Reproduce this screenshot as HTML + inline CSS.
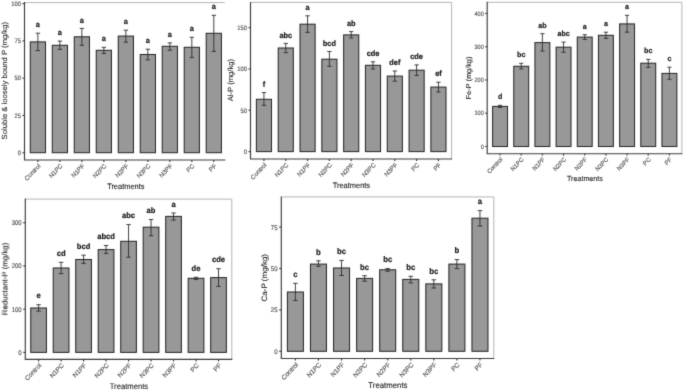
<!DOCTYPE html>
<html><head><meta charset="utf-8"><style>
html,body{margin:0;padding:0;background:#fff;}
body{width:685px;height:392px;overflow:hidden;}
svg{display:block;font-family:"Liberation Sans",sans-serif;filter:grayscale(1);text-rendering:geometricPrecision;}
</style></head><body>
<svg width="685" height="392" viewBox="0 0 685 392">
<defs><filter id="sf" x="0" y="0" width="685" height="392" filterUnits="userSpaceOnUse" color-interpolation-filters="sRGB"><feConvolveMatrix order="3" kernelMatrix="0.01440 0.09120 0.01440 0.09120 0.57760 0.09120 0.01440 0.09120 0.01440" divisor="1" edgeMode="duplicate" preserveAlpha="true"/></filter></defs>
<g filter="url(#sf)"><rect width="685" height="392" fill="#fff"/>
<g><path d="M24.5 2.6H224.8" fill="none" stroke="#b4b4b4" stroke-width="1.0"/><rect x="30.3" y="41.9" width="15.2" height="110.8" fill="#989898" stroke="#2a2a2a" stroke-width="1.05"/><rect x="52.29" y="45.3" width="15.2" height="107.4" fill="#989898" stroke="#2a2a2a" stroke-width="1.05"/><rect x="74.28" y="36.8" width="15.2" height="115.9" fill="#989898" stroke="#2a2a2a" stroke-width="1.05"/><rect x="96.27" y="50.3" width="15.2" height="102.4" fill="#989898" stroke="#2a2a2a" stroke-width="1.05"/><rect x="118.26" y="36.1" width="15.2" height="116.6" fill="#989898" stroke="#2a2a2a" stroke-width="1.05"/><rect x="140.25" y="54.5" width="15.2" height="98.2" fill="#989898" stroke="#2a2a2a" stroke-width="1.05"/><rect x="162.24" y="46.3" width="15.2" height="106.4" fill="#989898" stroke="#2a2a2a" stroke-width="1.05"/><rect x="184.23" y="47.3" width="15.2" height="105.4" fill="#989898" stroke="#2a2a2a" stroke-width="1.05"/><rect x="206.22" y="33.3" width="15.2" height="119.4" fill="#989898" stroke="#2a2a2a" stroke-width="1.05"/><path d="M37.9 33.2V50.6M35.7 33.2H40.1M35.7 50.6H40.1" stroke="#2e2e2e" stroke-width="0.9" fill="none"/><path d="M59.89 41.1V49.4M57.69 41.1H62.09M57.69 49.4H62.09" stroke="#2e2e2e" stroke-width="0.9" fill="none"/><path d="M81.88 28.4V45.3M79.68 28.4H84.08M79.68 45.3H84.08" stroke="#2e2e2e" stroke-width="0.9" fill="none"/><path d="M103.87 47.3V53.4M101.67 47.3H106.07M101.67 53.4H106.07" stroke="#2e2e2e" stroke-width="0.9" fill="none"/><path d="M125.86 30.2V42.2M123.66 30.2H128.06M123.66 42.2H128.06" stroke="#2e2e2e" stroke-width="0.9" fill="none"/><path d="M147.85 49.2V59.8M145.65 49.2H150.05M145.65 59.8H150.05" stroke="#2e2e2e" stroke-width="0.9" fill="none"/><path d="M169.84 42.9V50.2M167.64 42.9H172.04M167.64 50.2H172.04" stroke="#2e2e2e" stroke-width="0.9" fill="none"/><path d="M191.83 37.3V57.6M189.63 37.3H194.03M189.63 57.6H194.03" stroke="#2e2e2e" stroke-width="0.9" fill="none"/><path d="M213.82 15.3V51.4M211.62 15.3H216.02M211.62 51.4H216.02" stroke="#2e2e2e" stroke-width="0.9" fill="none"/><text transform="translate(37.9 27.3) scale(1 1.06)" text-anchor="middle" font-weight="bold" font-size="7.4" fill="#1a1a1a" stroke="#1a1a1a" stroke-width="0.2">a</text><text transform="translate(59.89 35.2) scale(1 1.06)" text-anchor="middle" font-weight="bold" font-size="7.4" fill="#1a1a1a" stroke="#1a1a1a" stroke-width="0.2">a</text><text transform="translate(81.88 22.5) scale(1 1.06)" text-anchor="middle" font-weight="bold" font-size="7.4" fill="#1a1a1a" stroke="#1a1a1a" stroke-width="0.2">a</text><text transform="translate(103.87 41.4) scale(1 1.06)" text-anchor="middle" font-weight="bold" font-size="7.4" fill="#1a1a1a" stroke="#1a1a1a" stroke-width="0.2">a</text><text transform="translate(125.86 24.3) scale(1 1.06)" text-anchor="middle" font-weight="bold" font-size="7.4" fill="#1a1a1a" stroke="#1a1a1a" stroke-width="0.2">a</text><text transform="translate(147.85 43.3) scale(1 1.06)" text-anchor="middle" font-weight="bold" font-size="7.4" fill="#1a1a1a" stroke="#1a1a1a" stroke-width="0.2">a</text><text transform="translate(169.84 37) scale(1 1.06)" text-anchor="middle" font-weight="bold" font-size="7.4" fill="#1a1a1a" stroke="#1a1a1a" stroke-width="0.2">a</text><text transform="translate(191.83 31.4) scale(1 1.06)" text-anchor="middle" font-weight="bold" font-size="7.4" fill="#1a1a1a" stroke="#1a1a1a" stroke-width="0.2">a</text><text transform="translate(213.82 9.4) scale(1 1.06)" text-anchor="middle" font-weight="bold" font-size="7.4" fill="#1a1a1a" stroke="#1a1a1a" stroke-width="0.2">a</text><path d="M24.5 2.1V160H225.3" fill="none" stroke="#3c3c3c" stroke-width="1.15"/><path d="M22.5 152.7H24.5" stroke="#3c3c3c" stroke-width="1.15"/><text transform="translate(20.9 155) scale(1 1.12)" text-anchor="end" font-size="5.8" fill="#555555" stroke="#555555" stroke-width="0.15">0</text><path d="M22.5 115.42H24.5" stroke="#3c3c3c" stroke-width="1.15"/><text transform="translate(20.9 117.72) scale(1 1.12)" text-anchor="end" font-size="5.8" fill="#555555" stroke="#555555" stroke-width="0.15">25</text><path d="M22.5 78.15H24.5" stroke="#3c3c3c" stroke-width="1.15"/><text transform="translate(20.9 80.45) scale(1 1.12)" text-anchor="end" font-size="5.8" fill="#555555" stroke="#555555" stroke-width="0.15">50</text><path d="M22.5 40.87H24.5" stroke="#3c3c3c" stroke-width="1.15"/><text transform="translate(20.9 43.17) scale(1 1.12)" text-anchor="end" font-size="5.8" fill="#555555" stroke="#555555" stroke-width="0.15">75</text><path d="M22.5 3.6H24.5" stroke="#3c3c3c" stroke-width="1.15"/><text transform="translate(20.9 5.9) scale(1 1.12)" text-anchor="end" font-size="5.8" fill="#555555" stroke="#555555" stroke-width="0.15">100</text><path d="M37.9 160V162" stroke="#3c3c3c" stroke-width="1.15"/><text transform="translate(40.9 166.4) scale(1 1.06) rotate(-45)" text-anchor="end" font-size="6.1" fill="#555555" stroke="#555555" stroke-width="0.15">Control</text><path d="M59.89 160V162" stroke="#3c3c3c" stroke-width="1.15"/><text transform="translate(62.89 166.4) scale(1 1.06) rotate(-45)" text-anchor="end" font-size="6.1" fill="#555555" stroke="#555555" stroke-width="0.15">N1PC</text><path d="M81.88 160V162" stroke="#3c3c3c" stroke-width="1.15"/><text transform="translate(84.88 166.4) scale(1 1.06) rotate(-45)" text-anchor="end" font-size="6.1" fill="#555555" stroke="#555555" stroke-width="0.15">N1PF</text><path d="M103.87 160V162" stroke="#3c3c3c" stroke-width="1.15"/><text transform="translate(106.87 166.4) scale(1 1.06) rotate(-45)" text-anchor="end" font-size="6.1" fill="#555555" stroke="#555555" stroke-width="0.15">N2PC</text><path d="M125.86 160V162" stroke="#3c3c3c" stroke-width="1.15"/><text transform="translate(128.86 166.4) scale(1 1.06) rotate(-45)" text-anchor="end" font-size="6.1" fill="#555555" stroke="#555555" stroke-width="0.15">N2PF</text><path d="M147.85 160V162" stroke="#3c3c3c" stroke-width="1.15"/><text transform="translate(150.85 166.4) scale(1 1.06) rotate(-45)" text-anchor="end" font-size="6.1" fill="#555555" stroke="#555555" stroke-width="0.15">N3PC</text><path d="M169.84 160V162" stroke="#3c3c3c" stroke-width="1.15"/><text transform="translate(172.84 166.4) scale(1 1.06) rotate(-45)" text-anchor="end" font-size="6.1" fill="#555555" stroke="#555555" stroke-width="0.15">N3PF</text><path d="M191.83 160V162" stroke="#3c3c3c" stroke-width="1.15"/><text transform="translate(194.83 166.4) scale(1 1.06) rotate(-45)" text-anchor="end" font-size="6.1" fill="#555555" stroke="#555555" stroke-width="0.15">PC</text><path d="M213.82 160V162" stroke="#3c3c3c" stroke-width="1.15"/><text transform="translate(216.82 166.4) scale(1 1.06) rotate(-45)" text-anchor="end" font-size="6.1" fill="#555555" stroke="#555555" stroke-width="0.15">PF</text><text transform="translate(125.8 188.5) scale(1 1.06)" text-anchor="middle" font-size="7.45" fill="#222222" stroke="#222222" stroke-width="0.1">Treatments</text><text transform="translate(7.1 80.7) scale(1 1.03) rotate(-90)" text-anchor="middle" font-size="7.45" fill="#222222" stroke="#222222" stroke-width="0.1">Soluble &amp; loosely bound P (mg/kg)</text></g>
<g><path d="M250.5 2.4H451.6V159" fill="none" stroke="#b4b4b4" stroke-width="1.0"/><rect x="256.4" y="99.3" width="15.1" height="52.3" fill="#989898" stroke="#2a2a2a" stroke-width="1.05"/><rect x="278.21" y="48" width="15.1" height="103.6" fill="#989898" stroke="#2a2a2a" stroke-width="1.05"/><rect x="300.02" y="24.2" width="15.1" height="127.4" fill="#989898" stroke="#2a2a2a" stroke-width="1.05"/><rect x="321.83" y="59.2" width="15.1" height="92.4" fill="#989898" stroke="#2a2a2a" stroke-width="1.05"/><rect x="343.64" y="34.9" width="15.1" height="116.7" fill="#989898" stroke="#2a2a2a" stroke-width="1.05"/><rect x="365.45" y="65.3" width="15.1" height="86.3" fill="#989898" stroke="#2a2a2a" stroke-width="1.05"/><rect x="387.26" y="76.1" width="15.1" height="75.5" fill="#989898" stroke="#2a2a2a" stroke-width="1.05"/><rect x="409.07" y="70.2" width="15.1" height="81.4" fill="#989898" stroke="#2a2a2a" stroke-width="1.05"/><rect x="430.88" y="87.1" width="15.1" height="64.5" fill="#989898" stroke="#2a2a2a" stroke-width="1.05"/><path d="M263.95 92.6V105.3M261.77 92.6H266.13M261.77 105.3H266.13" stroke="#2e2e2e" stroke-width="0.9" fill="none"/><path d="M285.76 43.4V52.6M283.58 43.4H287.94M283.58 52.6H287.94" stroke="#2e2e2e" stroke-width="0.9" fill="none"/><path d="M307.57 15.8V32.4M305.39 15.8H309.75M305.39 32.4H309.75" stroke="#2e2e2e" stroke-width="0.9" fill="none"/><path d="M329.38 51.5V66.3M327.2 51.5H331.56M327.2 66.3H331.56" stroke="#2e2e2e" stroke-width="0.9" fill="none"/><path d="M351.19 31.6V38M349.01 31.6H353.37M349.01 38H353.37" stroke="#2e2e2e" stroke-width="0.9" fill="none"/><path d="M373 61.8V69M370.82 61.8H375.18M370.82 69H375.18" stroke="#2e2e2e" stroke-width="0.9" fill="none"/><path d="M394.81 71V81.2M392.63 71H396.99M392.63 81.2H396.99" stroke="#2e2e2e" stroke-width="0.9" fill="none"/><path d="M416.62 64.9V75.5M414.44 64.9H418.8M414.44 75.5H418.8" stroke="#2e2e2e" stroke-width="0.9" fill="none"/><path d="M438.43 82.2V92M436.25 82.2H440.61M436.25 92H440.61" stroke="#2e2e2e" stroke-width="0.9" fill="none"/><text transform="translate(263.95 86.7) scale(1 1.06)" text-anchor="middle" font-weight="bold" font-size="7.4" fill="#1a1a1a" stroke="#1a1a1a" stroke-width="0.2">f</text><text transform="translate(285.76 37.5) scale(1 1.06)" text-anchor="middle" font-weight="bold" font-size="7.4" fill="#1a1a1a" stroke="#1a1a1a" stroke-width="0.2">abc</text><text transform="translate(307.57 9.9) scale(1 1.06)" text-anchor="middle" font-weight="bold" font-size="7.4" fill="#1a1a1a" stroke="#1a1a1a" stroke-width="0.2">a</text><text transform="translate(329.38 45.6) scale(1 1.06)" text-anchor="middle" font-weight="bold" font-size="7.4" fill="#1a1a1a" stroke="#1a1a1a" stroke-width="0.2">bcd</text><text transform="translate(351.19 25.7) scale(1 1.06)" text-anchor="middle" font-weight="bold" font-size="7.4" fill="#1a1a1a" stroke="#1a1a1a" stroke-width="0.2">ab</text><text transform="translate(373 55.9) scale(1 1.06)" text-anchor="middle" font-weight="bold" font-size="7.4" fill="#1a1a1a" stroke="#1a1a1a" stroke-width="0.2">cde</text><text transform="translate(394.81 65.1) scale(1 1.06)" text-anchor="middle" font-weight="bold" font-size="7.4" fill="#1a1a1a" stroke="#1a1a1a" stroke-width="0.2">def</text><text transform="translate(416.62 59) scale(1 1.06)" text-anchor="middle" font-weight="bold" font-size="7.4" fill="#1a1a1a" stroke="#1a1a1a" stroke-width="0.2">cde</text><text transform="translate(438.43 76.3) scale(1 1.06)" text-anchor="middle" font-weight="bold" font-size="7.4" fill="#1a1a1a" stroke="#1a1a1a" stroke-width="0.2">ef</text><path d="M250.5 1.9V159H452.1" fill="none" stroke="#3c3c3c" stroke-width="1.15"/><path d="M248.5 151.6H250.5" stroke="#3c3c3c" stroke-width="1.15"/><text transform="translate(246.9 153.9) scale(1 1.12)" text-anchor="end" font-size="5.8" fill="#555555" stroke="#555555" stroke-width="0.15">0</text><path d="M248.5 110.26H250.5" stroke="#3c3c3c" stroke-width="1.15"/><text transform="translate(246.9 112.56) scale(1 1.12)" text-anchor="end" font-size="5.8" fill="#555555" stroke="#555555" stroke-width="0.15">50</text><path d="M248.5 68.93H250.5" stroke="#3c3c3c" stroke-width="1.15"/><text transform="translate(246.9 71.23) scale(1 1.12)" text-anchor="end" font-size="5.8" fill="#555555" stroke="#555555" stroke-width="0.15">100</text><path d="M248.5 27.59H250.5" stroke="#3c3c3c" stroke-width="1.15"/><text transform="translate(246.9 29.89) scale(1 1.12)" text-anchor="end" font-size="5.8" fill="#555555" stroke="#555555" stroke-width="0.15">150</text><path d="M263.95 159V161" stroke="#3c3c3c" stroke-width="1.15"/><text transform="translate(266.95 165.4) scale(1 1.06) rotate(-45)" text-anchor="end" font-size="6.1" fill="#555555" stroke="#555555" stroke-width="0.15">Control</text><path d="M285.76 159V161" stroke="#3c3c3c" stroke-width="1.15"/><text transform="translate(288.76 165.4) scale(1 1.06) rotate(-45)" text-anchor="end" font-size="6.1" fill="#555555" stroke="#555555" stroke-width="0.15">N1PC</text><path d="M307.57 159V161" stroke="#3c3c3c" stroke-width="1.15"/><text transform="translate(310.57 165.4) scale(1 1.06) rotate(-45)" text-anchor="end" font-size="6.1" fill="#555555" stroke="#555555" stroke-width="0.15">N1PF</text><path d="M329.38 159V161" stroke="#3c3c3c" stroke-width="1.15"/><text transform="translate(332.38 165.4) scale(1 1.06) rotate(-45)" text-anchor="end" font-size="6.1" fill="#555555" stroke="#555555" stroke-width="0.15">N2PC</text><path d="M351.19 159V161" stroke="#3c3c3c" stroke-width="1.15"/><text transform="translate(354.19 165.4) scale(1 1.06) rotate(-45)" text-anchor="end" font-size="6.1" fill="#555555" stroke="#555555" stroke-width="0.15">N2PF</text><path d="M373 159V161" stroke="#3c3c3c" stroke-width="1.15"/><text transform="translate(376 165.4) scale(1 1.06) rotate(-45)" text-anchor="end" font-size="6.1" fill="#555555" stroke="#555555" stroke-width="0.15">N3PC</text><path d="M394.81 159V161" stroke="#3c3c3c" stroke-width="1.15"/><text transform="translate(397.81 165.4) scale(1 1.06) rotate(-45)" text-anchor="end" font-size="6.1" fill="#555555" stroke="#555555" stroke-width="0.15">N3PF</text><path d="M416.62 159V161" stroke="#3c3c3c" stroke-width="1.15"/><text transform="translate(419.62 165.4) scale(1 1.06) rotate(-45)" text-anchor="end" font-size="6.1" fill="#555555" stroke="#555555" stroke-width="0.15">PC</text><path d="M438.43 159V161" stroke="#3c3c3c" stroke-width="1.15"/><text transform="translate(441.43 165.4) scale(1 1.06) rotate(-45)" text-anchor="end" font-size="6.1" fill="#555555" stroke="#555555" stroke-width="0.15">PF</text><text transform="translate(351.4 187.5) scale(1 1.06)" text-anchor="middle" font-size="7.45" fill="#222222" stroke="#222222" stroke-width="0.1">Treatments</text><text transform="translate(233.1 80.1) scale(1 1.03) rotate(-90)" text-anchor="middle" font-size="7.45" fill="#222222" stroke="#222222" stroke-width="0.1">Al-P (mg/kg)</text></g>
<g><path d="M487.2 2.3H681.9V153.7" fill="none" stroke="#b4b4b4" stroke-width="1.0"/><rect x="492.6" y="106.4" width="14.9" height="40.1" fill="#989898" stroke="#2a2a2a" stroke-width="1.05"/><rect x="513.77" y="66.3" width="14.9" height="80.2" fill="#989898" stroke="#2a2a2a" stroke-width="1.05"/><rect x="534.94" y="42.6" width="14.9" height="103.9" fill="#989898" stroke="#2a2a2a" stroke-width="1.05"/><rect x="556.11" y="47.2" width="14.9" height="99.3" fill="#989898" stroke="#2a2a2a" stroke-width="1.05"/><rect x="577.28" y="37.1" width="14.9" height="109.4" fill="#989898" stroke="#2a2a2a" stroke-width="1.05"/><rect x="598.45" y="35.3" width="14.9" height="111.2" fill="#989898" stroke="#2a2a2a" stroke-width="1.05"/><rect x="619.62" y="23.9" width="14.9" height="122.6" fill="#989898" stroke="#2a2a2a" stroke-width="1.05"/><rect x="640.79" y="63.2" width="14.9" height="83.3" fill="#989898" stroke="#2a2a2a" stroke-width="1.05"/><rect x="661.96" y="73.4" width="14.9" height="73.1" fill="#989898" stroke="#2a2a2a" stroke-width="1.05"/><path d="M500.05 105.3V107.4M497.93 105.3H502.17M497.93 107.4H502.17" stroke="#2e2e2e" stroke-width="0.9" fill="none"/><path d="M521.22 63.3V68.9M519.1 63.3H523.34M519.1 68.9H523.34" stroke="#2e2e2e" stroke-width="0.9" fill="none"/><path d="M542.39 33.7V51M540.27 33.7H544.51M540.27 51H544.51" stroke="#2e2e2e" stroke-width="0.9" fill="none"/><path d="M563.56 42.1V52.3M561.44 42.1H565.68M561.44 52.3H565.68" stroke="#2e2e2e" stroke-width="0.9" fill="none"/><path d="M584.73 34.7V39.4M582.61 34.7H586.85M582.61 39.4H586.85" stroke="#2e2e2e" stroke-width="0.9" fill="none"/><path d="M605.9 32.2V38.4M603.78 32.2H608.02M603.78 38.4H608.02" stroke="#2e2e2e" stroke-width="0.9" fill="none"/><path d="M627.07 15.3V32.2M624.95 15.3H629.19M624.95 32.2H629.19" stroke="#2e2e2e" stroke-width="0.9" fill="none"/><path d="M648.24 59.4V67.4M646.12 59.4H650.36M646.12 67.4H650.36" stroke="#2e2e2e" stroke-width="0.9" fill="none"/><path d="M669.41 67.2V79.3M667.29 67.2H671.53M667.29 79.3H671.53" stroke="#2e2e2e" stroke-width="0.9" fill="none"/><text transform="translate(500.05 99.24) scale(1 1.06)" text-anchor="middle" font-weight="bold" font-size="7.1" fill="#1a1a1a" stroke="#1a1a1a" stroke-width="0.2">d</text><text transform="translate(521.22 57.24) scale(1 1.06)" text-anchor="middle" font-weight="bold" font-size="7.1" fill="#1a1a1a" stroke="#1a1a1a" stroke-width="0.2">bc</text><text transform="translate(542.39 27.64) scale(1 1.06)" text-anchor="middle" font-weight="bold" font-size="7.1" fill="#1a1a1a" stroke="#1a1a1a" stroke-width="0.2">ab</text><text transform="translate(563.56 36.04) scale(1 1.06)" text-anchor="middle" font-weight="bold" font-size="7.1" fill="#1a1a1a" stroke="#1a1a1a" stroke-width="0.2">abc</text><text transform="translate(584.73 28.64) scale(1 1.06)" text-anchor="middle" font-weight="bold" font-size="7.1" fill="#1a1a1a" stroke="#1a1a1a" stroke-width="0.2">a</text><text transform="translate(605.9 26.14) scale(1 1.06)" text-anchor="middle" font-weight="bold" font-size="7.1" fill="#1a1a1a" stroke="#1a1a1a" stroke-width="0.2">a</text><text transform="translate(627.07 9.24) scale(1 1.06)" text-anchor="middle" font-weight="bold" font-size="7.1" fill="#1a1a1a" stroke="#1a1a1a" stroke-width="0.2">a</text><text transform="translate(648.24 53.34) scale(1 1.06)" text-anchor="middle" font-weight="bold" font-size="7.1" fill="#1a1a1a" stroke="#1a1a1a" stroke-width="0.2">bc</text><text transform="translate(669.41 61.14) scale(1 1.06)" text-anchor="middle" font-weight="bold" font-size="7.1" fill="#1a1a1a" stroke="#1a1a1a" stroke-width="0.2">c</text><path d="M487.2 1.8V153.7H682.4" fill="none" stroke="#3c3c3c" stroke-width="1.15"/><path d="M485.28 146.5H487.2" stroke="#3c3c3c" stroke-width="1.15"/><text transform="translate(483.74 148.71) scale(1 1.12)" text-anchor="end" font-size="5.57" fill="#555555" stroke="#555555" stroke-width="0.15">0</text><path d="M485.28 113.25H487.2" stroke="#3c3c3c" stroke-width="1.15"/><text transform="translate(483.74 115.46) scale(1 1.12)" text-anchor="end" font-size="5.57" fill="#555555" stroke="#555555" stroke-width="0.15">100</text><path d="M485.28 80H487.2" stroke="#3c3c3c" stroke-width="1.15"/><text transform="translate(483.74 82.21) scale(1 1.12)" text-anchor="end" font-size="5.57" fill="#555555" stroke="#555555" stroke-width="0.15">200</text><path d="M485.28 46.75H487.2" stroke="#3c3c3c" stroke-width="1.15"/><text transform="translate(483.74 48.96) scale(1 1.12)" text-anchor="end" font-size="5.57" fill="#555555" stroke="#555555" stroke-width="0.15">300</text><path d="M485.28 13.5H487.2" stroke="#3c3c3c" stroke-width="1.15"/><text transform="translate(483.74 15.71) scale(1 1.12)" text-anchor="end" font-size="5.57" fill="#555555" stroke="#555555" stroke-width="0.15">400</text><path d="M500.05 153.7V155.62" stroke="#3c3c3c" stroke-width="1.15"/><text transform="translate(502.93 159.84) scale(1 1.06) rotate(-45)" text-anchor="end" font-size="5.86" fill="#555555" stroke="#555555" stroke-width="0.15">Control</text><path d="M521.22 153.7V155.62" stroke="#3c3c3c" stroke-width="1.15"/><text transform="translate(524.1 159.84) scale(1 1.06) rotate(-45)" text-anchor="end" font-size="5.86" fill="#555555" stroke="#555555" stroke-width="0.15">N1PC</text><path d="M542.39 153.7V155.62" stroke="#3c3c3c" stroke-width="1.15"/><text transform="translate(545.27 159.84) scale(1 1.06) rotate(-45)" text-anchor="end" font-size="5.86" fill="#555555" stroke="#555555" stroke-width="0.15">N1PF</text><path d="M563.56 153.7V155.62" stroke="#3c3c3c" stroke-width="1.15"/><text transform="translate(566.44 159.84) scale(1 1.06) rotate(-45)" text-anchor="end" font-size="5.86" fill="#555555" stroke="#555555" stroke-width="0.15">N2PC</text><path d="M584.73 153.7V155.62" stroke="#3c3c3c" stroke-width="1.15"/><text transform="translate(587.61 159.84) scale(1 1.06) rotate(-45)" text-anchor="end" font-size="5.86" fill="#555555" stroke="#555555" stroke-width="0.15">N2PF</text><path d="M605.9 153.7V155.62" stroke="#3c3c3c" stroke-width="1.15"/><text transform="translate(608.78 159.84) scale(1 1.06) rotate(-45)" text-anchor="end" font-size="5.86" fill="#555555" stroke="#555555" stroke-width="0.15">N3PC</text><path d="M627.07 153.7V155.62" stroke="#3c3c3c" stroke-width="1.15"/><text transform="translate(629.95 159.84) scale(1 1.06) rotate(-45)" text-anchor="end" font-size="5.86" fill="#555555" stroke="#555555" stroke-width="0.15">N3PF</text><path d="M648.24 153.7V155.62" stroke="#3c3c3c" stroke-width="1.15"/><text transform="translate(651.12 159.84) scale(1 1.06) rotate(-45)" text-anchor="end" font-size="5.86" fill="#555555" stroke="#555555" stroke-width="0.15">PC</text><path d="M669.41 153.7V155.62" stroke="#3c3c3c" stroke-width="1.15"/><text transform="translate(672.29 159.84) scale(1 1.06) rotate(-45)" text-anchor="end" font-size="5.86" fill="#555555" stroke="#555555" stroke-width="0.15">PF</text><text transform="translate(584.9 181.06) scale(1 1.06)" text-anchor="middle" font-size="7.15" fill="#222222" stroke="#222222" stroke-width="0.1">Treatments</text><text transform="translate(470.5 78) scale(1 1.03) rotate(-90)" text-anchor="middle" font-size="7.15" fill="#222222" stroke="#222222" stroke-width="0.1">Fe-P (mg/kg)</text></g>
<g><path d="M25.3 199.1H231.8V359.4" fill="none" stroke="#b4b4b4" stroke-width="1.0"/><rect x="30.75" y="308" width="15.7" height="44.4" fill="#989898" stroke="#2a2a2a" stroke-width="1.05"/><rect x="53.24" y="268" width="15.7" height="84.4" fill="#989898" stroke="#2a2a2a" stroke-width="1.05"/><rect x="75.73" y="259.5" width="15.7" height="92.9" fill="#989898" stroke="#2a2a2a" stroke-width="1.05"/><rect x="98.22" y="249.6" width="15.7" height="102.8" fill="#989898" stroke="#2a2a2a" stroke-width="1.05"/><rect x="120.71" y="241.3" width="15.7" height="111.1" fill="#989898" stroke="#2a2a2a" stroke-width="1.05"/><rect x="143.2" y="227.2" width="15.7" height="125.2" fill="#989898" stroke="#2a2a2a" stroke-width="1.05"/><rect x="165.69" y="216.4" width="15.7" height="136" fill="#989898" stroke="#2a2a2a" stroke-width="1.05"/><rect x="188.18" y="278.3" width="15.7" height="74.1" fill="#989898" stroke="#2a2a2a" stroke-width="1.05"/><rect x="210.67" y="277.6" width="15.7" height="74.8" fill="#989898" stroke="#2a2a2a" stroke-width="1.05"/><path d="M38.6 304.7V311.1M36.35 304.7H40.85M36.35 311.1H40.85" stroke="#2e2e2e" stroke-width="0.9" fill="none"/><path d="M61.09 262.3V273.6M58.84 262.3H63.34M58.84 273.6H63.34" stroke="#2e2e2e" stroke-width="0.9" fill="none"/><path d="M83.58 255.2V263.4M81.33 255.2H85.83M81.33 263.4H85.83" stroke="#2e2e2e" stroke-width="0.9" fill="none"/><path d="M106.07 245.5V253.4M103.82 245.5H108.32M103.82 253.4H108.32" stroke="#2e2e2e" stroke-width="0.9" fill="none"/><path d="M128.56 224.6V257.2M126.31 224.6H130.81M126.31 257.2H130.81" stroke="#2e2e2e" stroke-width="0.9" fill="none"/><path d="M151.05 219.5V235.8M148.8 219.5H153.3M148.8 235.8H153.3" stroke="#2e2e2e" stroke-width="0.9" fill="none"/><path d="M173.54 213V220.1M171.29 213H175.79M171.29 220.1H175.79" stroke="#2e2e2e" stroke-width="0.9" fill="none"/><path d="M196.03 277.3V279.4M193.78 277.3H198.28M193.78 279.4H198.28" stroke="#2e2e2e" stroke-width="0.9" fill="none"/><path d="M218.52 268.7V286.4M216.27 268.7H220.77M216.27 286.4H220.77" stroke="#2e2e2e" stroke-width="0.9" fill="none"/><text transform="translate(38.6 298.39) scale(1 1.06)" text-anchor="middle" font-weight="bold" font-size="7.6" fill="#1a1a1a" stroke="#1a1a1a" stroke-width="0.2">e</text><text transform="translate(61.09 255.99) scale(1 1.06)" text-anchor="middle" font-weight="bold" font-size="7.6" fill="#1a1a1a" stroke="#1a1a1a" stroke-width="0.2">cd</text><text transform="translate(83.58 248.89) scale(1 1.06)" text-anchor="middle" font-weight="bold" font-size="7.6" fill="#1a1a1a" stroke="#1a1a1a" stroke-width="0.2">bcd</text><text transform="translate(106.07 239.19) scale(1 1.06)" text-anchor="middle" font-weight="bold" font-size="7.6" fill="#1a1a1a" stroke="#1a1a1a" stroke-width="0.2">abcd</text><text transform="translate(128.56 218.29) scale(1 1.06)" text-anchor="middle" font-weight="bold" font-size="7.6" fill="#1a1a1a" stroke="#1a1a1a" stroke-width="0.2">abc</text><text transform="translate(151.05 213.19) scale(1 1.06)" text-anchor="middle" font-weight="bold" font-size="7.6" fill="#1a1a1a" stroke="#1a1a1a" stroke-width="0.2">ab</text><text transform="translate(173.54 206.69) scale(1 1.06)" text-anchor="middle" font-weight="bold" font-size="7.6" fill="#1a1a1a" stroke="#1a1a1a" stroke-width="0.2">a</text><text transform="translate(196.03 270.99) scale(1 1.06)" text-anchor="middle" font-weight="bold" font-size="7.6" fill="#1a1a1a" stroke="#1a1a1a" stroke-width="0.2">de</text><text transform="translate(218.52 262.39) scale(1 1.06)" text-anchor="middle" font-weight="bold" font-size="7.6" fill="#1a1a1a" stroke="#1a1a1a" stroke-width="0.2">cde</text><path d="M25.3 198.6V359.4H232.3" fill="none" stroke="#3c3c3c" stroke-width="1.15"/><path d="M23.25 352.4H25.3" stroke="#3c3c3c" stroke-width="1.15"/><text transform="translate(21.6 354.76) scale(1 1.12)" text-anchor="end" font-size="5.96" fill="#555555" stroke="#555555" stroke-width="0.15">0</text><path d="M23.25 309.17H25.3" stroke="#3c3c3c" stroke-width="1.15"/><text transform="translate(21.6 311.53) scale(1 1.12)" text-anchor="end" font-size="5.96" fill="#555555" stroke="#555555" stroke-width="0.15">100</text><path d="M23.25 265.94H25.3" stroke="#3c3c3c" stroke-width="1.15"/><text transform="translate(21.6 268.3) scale(1 1.12)" text-anchor="end" font-size="5.96" fill="#555555" stroke="#555555" stroke-width="0.15">200</text><path d="M23.25 222.71H25.3" stroke="#3c3c3c" stroke-width="1.15"/><text transform="translate(21.6 225.07) scale(1 1.12)" text-anchor="end" font-size="5.96" fill="#555555" stroke="#555555" stroke-width="0.15">300</text><path d="M38.6 359.4V361.45" stroke="#3c3c3c" stroke-width="1.15"/><text transform="translate(41.68 365.97) scale(1 1.06) rotate(-45)" text-anchor="end" font-size="6.26" fill="#555555" stroke="#555555" stroke-width="0.15">Control</text><path d="M61.09 359.4V361.45" stroke="#3c3c3c" stroke-width="1.15"/><text transform="translate(64.17 365.97) scale(1 1.06) rotate(-45)" text-anchor="end" font-size="6.26" fill="#555555" stroke="#555555" stroke-width="0.15">N1PC</text><path d="M83.58 359.4V361.45" stroke="#3c3c3c" stroke-width="1.15"/><text transform="translate(86.66 365.97) scale(1 1.06) rotate(-45)" text-anchor="end" font-size="6.26" fill="#555555" stroke="#555555" stroke-width="0.15">N1PF</text><path d="M106.07 359.4V361.45" stroke="#3c3c3c" stroke-width="1.15"/><text transform="translate(109.15 365.97) scale(1 1.06) rotate(-45)" text-anchor="end" font-size="6.26" fill="#555555" stroke="#555555" stroke-width="0.15">N2PC</text><path d="M128.56 359.4V361.45" stroke="#3c3c3c" stroke-width="1.15"/><text transform="translate(131.64 365.97) scale(1 1.06) rotate(-45)" text-anchor="end" font-size="6.26" fill="#555555" stroke="#555555" stroke-width="0.15">N2PF</text><path d="M151.05 359.4V361.45" stroke="#3c3c3c" stroke-width="1.15"/><text transform="translate(154.13 365.97) scale(1 1.06) rotate(-45)" text-anchor="end" font-size="6.26" fill="#555555" stroke="#555555" stroke-width="0.15">N3PC</text><path d="M173.54 359.4V361.45" stroke="#3c3c3c" stroke-width="1.15"/><text transform="translate(176.62 365.97) scale(1 1.06) rotate(-45)" text-anchor="end" font-size="6.26" fill="#555555" stroke="#555555" stroke-width="0.15">N3PF</text><path d="M196.03 359.4V361.45" stroke="#3c3c3c" stroke-width="1.15"/><text transform="translate(199.11 365.97) scale(1 1.06) rotate(-45)" text-anchor="end" font-size="6.26" fill="#555555" stroke="#555555" stroke-width="0.15">PC</text><path d="M218.52 359.4V361.45" stroke="#3c3c3c" stroke-width="1.15"/><text transform="translate(221.6 365.97) scale(1 1.06) rotate(-45)" text-anchor="end" font-size="6.26" fill="#555555" stroke="#555555" stroke-width="0.15">PF</text><text transform="translate(128.9 388.67) scale(1 1.06)" text-anchor="middle" font-size="7.65" fill="#222222" stroke="#222222" stroke-width="0.1">Treatments</text><text transform="translate(7.43 278.95) scale(1 1.03) rotate(-90)" text-anchor="middle" font-size="7.65" fill="#222222" stroke="#222222" stroke-width="0.1">Reductant-P (mg/kg)</text></g>
<g><path d="M281.3 196.95H493.8V358.5" fill="none" stroke="#b4b4b4" stroke-width="1.0"/><rect x="287.4" y="292" width="16" height="59.3" fill="#989898" stroke="#2a2a2a" stroke-width="1.05"/><rect x="310.47" y="264.1" width="16" height="87.2" fill="#989898" stroke="#2a2a2a" stroke-width="1.05"/><rect x="333.54" y="268" width="16" height="83.3" fill="#989898" stroke="#2a2a2a" stroke-width="1.05"/><rect x="356.61" y="278.4" width="16" height="72.9" fill="#989898" stroke="#2a2a2a" stroke-width="1.05"/><rect x="379.68" y="269.8" width="16" height="81.5" fill="#989898" stroke="#2a2a2a" stroke-width="1.05"/><rect x="402.75" y="279.4" width="16" height="71.9" fill="#989898" stroke="#2a2a2a" stroke-width="1.05"/><rect x="425.82" y="283.9" width="16" height="67.4" fill="#989898" stroke="#2a2a2a" stroke-width="1.05"/><rect x="448.89" y="264.1" width="16" height="87.2" fill="#989898" stroke="#2a2a2a" stroke-width="1.05"/><rect x="471.96" y="218.2" width="16" height="133.1" fill="#989898" stroke="#2a2a2a" stroke-width="1.05"/><path d="M295.4 283.3V300.4M293.09 283.3H297.71M293.09 300.4H297.71" stroke="#2e2e2e" stroke-width="0.9" fill="none"/><path d="M318.47 260.8V266.3M316.16 260.8H320.78M316.16 266.3H320.78" stroke="#2e2e2e" stroke-width="0.9" fill="none"/><path d="M341.54 260.4V275.5M339.23 260.4H343.85M339.23 275.5H343.85" stroke="#2e2e2e" stroke-width="0.9" fill="none"/><path d="M364.61 275.7V281.2M362.3 275.7H366.92M362.3 281.2H366.92" stroke="#2e2e2e" stroke-width="0.9" fill="none"/><path d="M387.68 268.6V271.2M385.37 268.6H389.99M385.37 271.2H389.99" stroke="#2e2e2e" stroke-width="0.9" fill="none"/><path d="M410.75 276.3V282.9M408.44 276.3H413.06M408.44 282.9H413.06" stroke="#2e2e2e" stroke-width="0.9" fill="none"/><path d="M433.82 279.8V288M431.51 279.8H436.13M431.51 288H436.13" stroke="#2e2e2e" stroke-width="0.9" fill="none"/><path d="M456.89 259.6V268.6M454.58 259.6H459.2M454.58 268.6H459.2" stroke="#2e2e2e" stroke-width="0.9" fill="none"/><path d="M479.96 210.6V226M477.65 210.6H482.27M477.65 226H482.27" stroke="#2e2e2e" stroke-width="0.9" fill="none"/><text transform="translate(295.4 277.13) scale(1 1.06)" text-anchor="middle" font-weight="bold" font-size="7.73" fill="#1a1a1a" stroke="#1a1a1a" stroke-width="0.2">c</text><text transform="translate(318.47 254.63) scale(1 1.06)" text-anchor="middle" font-weight="bold" font-size="7.73" fill="#1a1a1a" stroke="#1a1a1a" stroke-width="0.2">b</text><text transform="translate(341.54 254.23) scale(1 1.06)" text-anchor="middle" font-weight="bold" font-size="7.73" fill="#1a1a1a" stroke="#1a1a1a" stroke-width="0.2">bc</text><text transform="translate(364.61 269.53) scale(1 1.06)" text-anchor="middle" font-weight="bold" font-size="7.73" fill="#1a1a1a" stroke="#1a1a1a" stroke-width="0.2">bc</text><text transform="translate(387.68 262.43) scale(1 1.06)" text-anchor="middle" font-weight="bold" font-size="7.73" fill="#1a1a1a" stroke="#1a1a1a" stroke-width="0.2">bc</text><text transform="translate(410.75 270.13) scale(1 1.06)" text-anchor="middle" font-weight="bold" font-size="7.73" fill="#1a1a1a" stroke="#1a1a1a" stroke-width="0.2">bc</text><text transform="translate(433.82 273.63) scale(1 1.06)" text-anchor="middle" font-weight="bold" font-size="7.73" fill="#1a1a1a" stroke="#1a1a1a" stroke-width="0.2">bc</text><text transform="translate(456.89 253.43) scale(1 1.06)" text-anchor="middle" font-weight="bold" font-size="7.73" fill="#1a1a1a" stroke="#1a1a1a" stroke-width="0.2">b</text><text transform="translate(479.96 204.43) scale(1 1.06)" text-anchor="middle" font-weight="bold" font-size="7.73" fill="#1a1a1a" stroke="#1a1a1a" stroke-width="0.2">a</text><path d="M281.3 196.45V358.5H494.3" fill="none" stroke="#3c3c3c" stroke-width="1.15"/><path d="M279.21 351.3H281.3" stroke="#3c3c3c" stroke-width="1.15"/><text transform="translate(277.54 353.7) scale(1 1.12)" text-anchor="end" font-size="6.06" fill="#555555" stroke="#555555" stroke-width="0.15">0</text><path d="M279.21 309.9H281.3" stroke="#3c3c3c" stroke-width="1.15"/><text transform="translate(277.54 312.3) scale(1 1.12)" text-anchor="end" font-size="6.06" fill="#555555" stroke="#555555" stroke-width="0.15">25</text><path d="M279.21 268.5H281.3" stroke="#3c3c3c" stroke-width="1.15"/><text transform="translate(277.54 270.9) scale(1 1.12)" text-anchor="end" font-size="6.06" fill="#555555" stroke="#555555" stroke-width="0.15">50</text><path d="M279.21 227.1H281.3" stroke="#3c3c3c" stroke-width="1.15"/><text transform="translate(277.54 229.5) scale(1 1.12)" text-anchor="end" font-size="6.06" fill="#555555" stroke="#555555" stroke-width="0.15">75</text><path d="M295.4 358.5V360.59" stroke="#3c3c3c" stroke-width="1.15"/><text transform="translate(298.53 365.19) scale(1 1.06) rotate(-45)" text-anchor="end" font-size="6.37" fill="#555555" stroke="#555555" stroke-width="0.15">Control</text><path d="M318.47 358.5V360.59" stroke="#3c3c3c" stroke-width="1.15"/><text transform="translate(321.6 365.19) scale(1 1.06) rotate(-45)" text-anchor="end" font-size="6.37" fill="#555555" stroke="#555555" stroke-width="0.15">N1PC</text><path d="M341.54 358.5V360.59" stroke="#3c3c3c" stroke-width="1.15"/><text transform="translate(344.67 365.19) scale(1 1.06) rotate(-45)" text-anchor="end" font-size="6.37" fill="#555555" stroke="#555555" stroke-width="0.15">N1PF</text><path d="M364.61 358.5V360.59" stroke="#3c3c3c" stroke-width="1.15"/><text transform="translate(367.75 365.19) scale(1 1.06) rotate(-45)" text-anchor="end" font-size="6.37" fill="#555555" stroke="#555555" stroke-width="0.15">N2PC</text><path d="M387.68 358.5V360.59" stroke="#3c3c3c" stroke-width="1.15"/><text transform="translate(390.81 365.19) scale(1 1.06) rotate(-45)" text-anchor="end" font-size="6.37" fill="#555555" stroke="#555555" stroke-width="0.15">N2PF</text><path d="M410.75 358.5V360.59" stroke="#3c3c3c" stroke-width="1.15"/><text transform="translate(413.88 365.19) scale(1 1.06) rotate(-45)" text-anchor="end" font-size="6.37" fill="#555555" stroke="#555555" stroke-width="0.15">N3PC</text><path d="M433.82 358.5V360.59" stroke="#3c3c3c" stroke-width="1.15"/><text transform="translate(436.95 365.19) scale(1 1.06) rotate(-45)" text-anchor="end" font-size="6.37" fill="#555555" stroke="#555555" stroke-width="0.15">N3PF</text><path d="M456.89 358.5V360.59" stroke="#3c3c3c" stroke-width="1.15"/><text transform="translate(460.02 365.19) scale(1 1.06) rotate(-45)" text-anchor="end" font-size="6.37" fill="#555555" stroke="#555555" stroke-width="0.15">PC</text><path d="M479.96 358.5V360.59" stroke="#3c3c3c" stroke-width="1.15"/><text transform="translate(483.09 365.19) scale(1 1.06) rotate(-45)" text-anchor="end" font-size="6.37" fill="#555555" stroke="#555555" stroke-width="0.15">PF</text><text transform="translate(387.9 388.28) scale(1 1.06)" text-anchor="middle" font-size="7.79" fill="#222222" stroke="#222222" stroke-width="0.1">Treatments</text><text transform="translate(267.3 277.73) scale(1 1.03) rotate(-90)" text-anchor="middle" font-size="7.79" fill="#222222" stroke="#222222" stroke-width="0.1">Ca-P (mg/kg)</text></g></g>
</svg>
</body></html>
